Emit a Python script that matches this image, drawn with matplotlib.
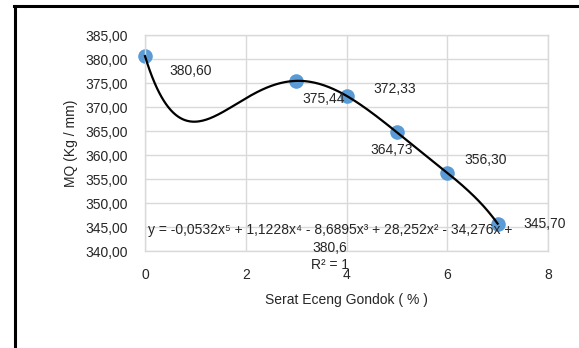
import matplotlib

matplotlib.use("Agg")
import matplotlib.pyplot as plt
import numpy as np
from matplotlib.lines import Line2D
from matplotlib.ticker import FuncFormatter

plt.rcParams["font.family"] = ["Liberation Sans", "DejaVu Sans"]
plt.rcParams["font.size"] = 10

# data
serat = [0, 3, 4, 5, 6, 7]
mq = [380.60, 375.44, 372.33, 364.73, 356.30, 345.70]
point_labels = ["380,60", "375,44", "372,33", "364,73", "356,30", "345,70"]
# label offsets (points) relative to each marker
label_offsets = [(33, -11), (20, -13), (35, 5), (-4, -13), (28, 9), (34, 0)]

W, H = 579, 348
fig = plt.figure(figsize=(W / 100, H / 100), dpi=100)
ax = fig.add_axes([145 / W, 1 - 251 / H, (548 - 145) / W, (251 - 35) / H])

grid_c = "#d9d9d9"
txt_c = "#262626"
ax.set_xlim(0, 8)
ax.set_ylim(340, 385)
ax.set_xticks(np.arange(0, 9, 2))
ax.set_yticks(np.arange(340, 386, 5))
ax.yaxis.set_major_formatter(FuncFormatter(lambda v, p: f"{v:.2f}".replace(".", ",")))
ax.grid(True, color=grid_c, linewidth=1)
ax.set_axisbelow(True)
for s in ax.spines.values():
    s.set_color(grid_c)
    s.set_linewidth(1)
ax.tick_params(length=0, labelsize=10, colors=txt_c)
ax.tick_params(axis="y", pad=12)
ax.tick_params(axis="x", pad=12)

# 5th-degree polynomial trendline (exact fit through 6 points)
coef = np.polyfit(serat, mq, 5)
xs = np.linspace(min(serat), max(serat), 300)
ax.plot(xs, np.polyval(coef, xs), color="black", linewidth=1.6, zorder=3, clip_on=False)
ax.scatter(serat, mq, s=110, color="#5b9bd5", zorder=2, clip_on=False, linewidths=0)

for xv, yv, lab, off in zip(serat, mq, point_labels, label_offsets):
    ax.annotate(lab, (xv, yv), xytext=off, textcoords="offset points",
                ha="center", va="center", fontsize=10, color=txt_c, zorder=4)

eq = ("y = -0,0532x\u2075 + 1,1228x\u2074 - 8,6895x\u00b3 + 28,252x\u00b2 - 34,276x +\n"
      "380,6\nR\u00b2 = 1")
fig.text(330 / W, 1 - 223 / H, eq, ha="center", va="top", fontsize=10,
         color=txt_c, linespacing=1.34)

fig.text(71 / W, 1 - 143 / H, "MQ (Kg / mm)", rotation=90, ha="center", va="center",
         fontsize=10, color=txt_c)
fig.text(346 / W, 1 - 300 / H, "Serat Eceng Gondok ( % )", ha="center", va="center",
         fontsize=10, color=txt_c)

# outer frame (left and top edges visible)
fig.add_artist(Line2D([14.5 / W, 14.5 / W], [0, 1 - 6 / H], transform=fig.transFigure,
                      color="black", linewidth=2.2))
fig.add_artist(Line2D([13.5 / W, 1], [1 - 6 / H, 1 - 6 / H], transform=fig.transFigure,
                      color="black", linewidth=2.2))

fig.savefig("out.png", dpi=100)
